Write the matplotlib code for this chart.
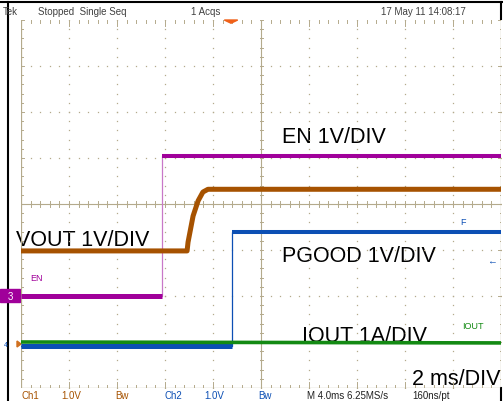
import numpy as np
import matplotlib.pyplot as plt
from matplotlib.patches import Polygon, Rectangle

plt.rcParams['font.family'] = ['Liberation Sans', 'DejaVu Sans']

# Scope settings: 10 x 8 divisions, 2 ms/div
t_div = 2.0          # ms per division
n_hdiv = 10
n_vdiv = 8

# Waveforms: time in ms, level in divisions from screen centre
en_t = [-10.0, -4.125, -4.125, 10.0]
en_v = [-2.0, -2.0, 1.04, 1.04]

vout_t = [-10.0, -3.08, -3.04, -2.83, -2.62, -2.42, -2.21, 10.0]
vout_v = [-1.02, -1.02, -0.83, -0.26, 0.07, 0.26, 0.32, 0.32]

pgood_t = [-10.0, -1.2, -1.2, 10.0]
pgood_v = [-3.09, -3.09, -0.6, -0.6]

iout_t = [-10.0, 10.0]
iout_v = [-3.0, -3.02]

trig_t = -1.25       # trigger position marker (ms)

# colours
c_en = '#a0009a'
c_en_edge = '#c878c8'
c_vout = '#a65200'
c_pgood = '#0c4fb4'
c_iout = '#138a13'
c_grid = '#b4aa8c'

W, H = 503, 402
fig = plt.figure(figsize=(W / 100, H / 100), dpi=100)

# background layer in pixel coordinates (frame and texts)
bg = fig.add_axes([0, 0, 1, 1])
bg.set_xlim(0, W)
bg.set_ylim(H, 0)
bg.axis('off')
bg.plot([0, W], [3, 3], color='black', lw=1.5)
bg.plot([8, 8], [3, H], color='black', lw=1.5)
bg.plot([501, 501], [3, 20], color='black', lw=1.5)
bg.plot([501, 501], [389, H], color='black', lw=1.5)

hdr = dict(fontsize=7, color='#404040', va='center')
bg.text(3, 12, 'Tek', **hdr)
bg.text(38, 12, 'Stopped  Single Seq', **hdr)
bg.text(191, 12, '1 Acqs', **hdr)
bg.text(381, 12, '17 May 11 14:08:17', **hdr)

ftr = dict(fontsize=7, va='center')
bg.text(22, 396.5, 'Ch1', color=c_vout, **ftr)
bg.text(61, 396.5, '1.0V', color=c_vout, **ftr)
bg.text(115, 396.5, 'Bw', color=c_vout, **ftr)
bg.text(165, 396.5, 'Ch2', color=c_pgood, **ftr)
bg.text(204, 396.5, '1.0V', color=c_pgood, **ftr)
bg.text(258, 396.5, 'Bw', color=c_pgood, **ftr)
bg.text(307, 396.5, 'M 4.0ms 6.25MS/s', color='#202020', **ftr)
bg.text(412, 396.5, '160ns/pt', color='#202020', **ftr)

# graticule axes
ax = fig.add_axes([21 / W, 13 / H, 480 / W, 368 / H])
ax.set_xlim(-n_hdiv / 2 * t_div, n_hdiv / 2 * t_div)
ax.set_ylim(-n_vdiv / 2, n_vdiv / 2)
ax.axis('off')
ax.patch.set_alpha(0)

xmin, xmax = -n_hdiv / 2 * t_div, n_hdiv / 2 * t_div
ymin, ymax = -n_vdiv / 2, n_vdiv / 2
minor_x = np.arange(xmin, xmax + 1e-9, t_div / 5)
minor_y = np.arange(ymin, ymax + 1e-9, 0.2)
major_x = np.arange(xmin + t_div, xmax, t_div)
major_y = np.arange(ymin + 1, ymax, 1)

# dotted major lines
for gx in major_x:
    ax.plot(np.full_like(minor_y, gx), minor_y, ls='none', marker='s', ms=0.9,
            color=c_grid, mec='none')
for gy in major_y:
    ax.plot(minor_x, np.full_like(minor_x, gy), ls='none', marker='s', ms=0.9,
            color=c_grid, mec='none')

# centre cross with minor ticks
ax.plot([xmin, xmax], [0, 0], color=c_grid, lw=0.8)
ax.plot([0, 0], [ymin, ymax], color=c_grid, lw=0.8)
tx = 0.5 * t_div / 48 * 3
ty = 3 / 46
for mx in minor_x:
    ax.plot([mx, mx], [-ty, ty], color=c_grid, lw=0.7)
for my in minor_y:
    ax.plot([-tx, tx], [my, my], color=c_grid, lw=0.7)

# border with ticks
ax.plot([xmin, xmin], [ymin, ymax], color=c_grid, lw=0.9)
ax.plot([xmax, xmax], [ymin, ymax], color=c_grid, lw=0.9)
ax.plot([xmin, xmax], [ymin, ymin], color=c_grid, lw=0.9)
for mx in minor_x:
    ln = 2 * ty if np.isclose((mx - xmin) % t_div, 0) or np.isclose((mx - xmin) % t_div, t_div) else ty
    ax.plot([mx, mx], [ymax, ymax - ln], color=c_grid, lw=0.7)
    ax.plot([mx, mx], [ymin, ymin + ln], color=c_grid, lw=0.7)
for my in minor_y:
    ln = 2 * tx if np.isclose((my - ymin) % 1, 0) or np.isclose((my - ymin) % 1, 1) else tx
    ax.plot([xmin, xmin + ln], [my, my], color=c_grid, lw=0.7)
    ax.plot([xmax, xmax - ln], [my, my], color=c_grid, lw=0.7)

# traces
ax.plot(pgood_t, pgood_v, color=c_pgood, lw=0.9, zorder=3)
ax.plot(pgood_t[:2], pgood_v[:2], color=c_pgood, lw=3.6, zorder=3, solid_capstyle='butt')
ax.plot(pgood_t[2:], pgood_v[2:], color=c_pgood, lw=2.9, zorder=3, solid_capstyle='butt')
ax.plot(iout_t, iout_v, color=c_iout, lw=2.6, zorder=4, solid_capstyle='butt')
ax.plot(en_t, en_v, color=c_en_edge, lw=0.9, zorder=3)
ax.plot(en_t[:2], en_v[:2], color=c_en, lw=3.6, zorder=4, solid_capstyle='butt')
ax.plot(en_t[2:], en_v[2:], color=c_en, lw=2.9, zorder=4, solid_capstyle='butt')
ax.plot(vout_t, vout_v, color=c_vout, lw=3.6, zorder=4, solid_capstyle='butt',
        solid_joinstyle='round')

# trigger marker at top
tr = Polygon([[trig_t - 0.28, ymax], [trig_t + 0.28, ymax], [trig_t, ymax - 0.07]],
             closed=True, color='#f06018', clip_on=False, zorder=5)
ax.add_patch(tr)

# channel markers on left
bg.add_patch(Rectangle((0, 290), 20, 13, color=c_en, zorder=5))
bg.text(10, 297, '3', color='white', fontsize=7, ha='center', va='center', zorder=6)
bg.add_patch(Polygon([[17, 342], [17, 348], [21, 345]], closed=True, color='#d07020'))
bg.text(6, 346, '4', color=c_pgood, fontsize=5, ha='center', va='center')

# small scope labels
ax.text(-9.6, -1.6, 'EN', color=c_en, fontsize=6.5, va='center')
ax.text(8.3, -0.37, 'F', color=c_pgood, fontsize=6.5, va='center')
ax.text(9.4, -1.22, '\u2190', color=c_pgood, fontsize=7, va='center')
ax.text(8.4, -2.65, 'IOUT', color=c_iout, fontsize=6.5, va='center',
        bbox=dict(facecolor='white', edgecolor='none', pad=1))

# annotation texts
big = dict(fontsize=15.5, color='black', va='baseline')
bg.text(282, 143, 'EN 1V/DIV', **big)
bg.text(16, 246, 'VOUT 1V/DIV', **big)
bg.text(282, 262, 'PGOOD 1V/DIV', **big)
bg.text(302, 342, 'IOUT 1A/DIV', zorder=10, **big)
bg.text(412, 385, '2 ms/DIV', **big)

fig.savefig('out.png', dpi=100)
